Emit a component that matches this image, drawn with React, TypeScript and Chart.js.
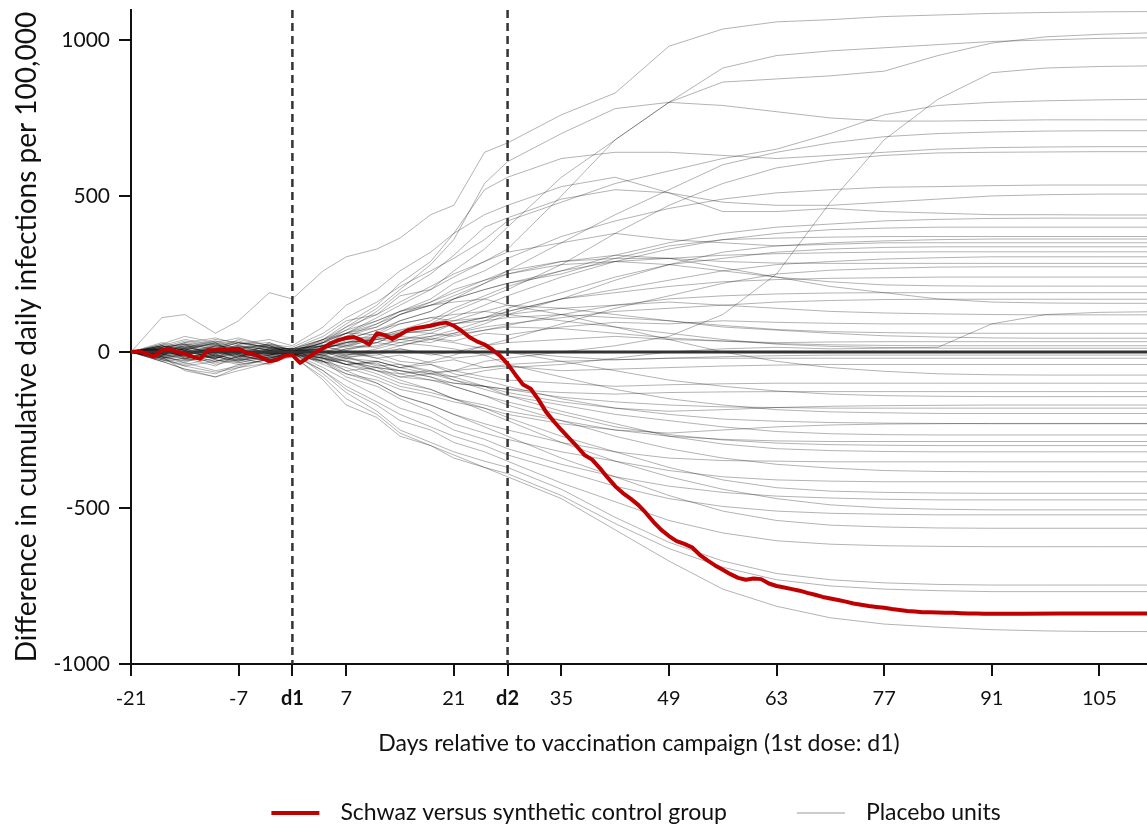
import React, { useEffect, useRef } from 'react';
import { Chart, registerables } from 'chart.js';

Chart.register(...registerables);

const DAYS = [-21, -17, -14, -10, -7, -3, 0, 4, 7, 11, 14, 18, 21, 25, 28, 35, 42, 49, 56, 63, 70, 77, 84, 91, 98, 105, 112];

// One row per placebo unit (values at DAYS)
const PLACEBO_VALUES: number[][] = [
  [0, 110, 120, 60, 100, 190, 170, 260, 305, 330, 365, 440, 470, 640, 670, 760, 830, 980, 1035, 1058, 1065, 1075, 1080, 1085, 1088, 1090, 1091],
  [0, 10, -15, 20, 5, -10, 10, 40, 80, 120, 160, 210, 250, 290, 330, 500, 680, 800, 865, 875, 885, 900, 950, 990, 1010, 1018, 1023],
  [0, -10, 15, 25, -5, 20, 5, 30, 60, 110, 150, 200, 260, 330, 400, 560, 680, 800, 910, 950, 965, 975, 985, 995, 1000, 1005, 1007],
  [0, 15, -20, -10, 20, 5, 0, -20, -40, -30, -50, -40, -60, -30, -20, 0, 20, 50, 120, 250, 480, 680, 810, 895, 910, 915, 917],
  [0, -5, 10, -20, 15, 25, 15, 60, 110, 160, 210, 260, 300, 360, 420, 480, 540, 580, 620, 650, 700, 760, 790, 800, 805, 808, 810],
  [0, 20, 5, 30, -10, 0, -5, 30, 80, 140, 200, 280, 360, 540, 610, 700, 780, 800, 790, 770, 750, 740, 740, 742, 744, 744, 744],
  [0, -20, -5, 10, 30, 15, 10, 20, 40, 70, 100, 130, 170, 220, 260, 350, 440, 520, 600, 640, 670, 690, 700, 705, 708, 709, 709],
  [0, 5, 25, -15, 10, -20, 0, 40, 90, 150, 220, 290, 380, 520, 560, 620, 640, 640, 630, 620, 630, 640, 650, 655, 657, 658, 658],
  [0, -15, -30, -10, -25, 10, 5, -10, 10, 30, 60, 90, 130, 170, 200, 280, 380, 470, 540, 590, 615, 630, 638, 640, 641, 642, 642],
  [0, 25, 10, 35, 20, -5, -10, 10, 50, 90, 130, 170, 220, 260, 300, 370, 420, 460, 490, 510, 520, 528, 530, 533, 535, 535, 535],
  [0, -10, 20, 5, -20, 30, 0, 30, 70, 130, 190, 250, 310, 400, 430, 490, 520, 510, 480, 470, 470, 480, 490, 500, 504, 506, 506],
  [0, 30, 15, -5, 25, 40, 20, 80, 150, 200, 260, 320, 380, 440, 470, 530, 560, 510, 450, 450, 460, 450, 445, 440, 440, 439, 439],
  [0, -25, -10, -30, -15, 5, -5, 0, 20, 50, 70, 100, 140, 180, 210, 260, 310, 350, 380, 400, 410, 420, 425, 428, 429, 429, 429],
  [0, 10, -5, 15, -20, -10, 5, 20, 60, 80, 120, 150, 170, 200, 220, 250, 300, 340, 360, 365, 368, 370, 370, 370, 370, 370, 370],
  [0, -30, -55, -70, -40, -25, -10, -30, -20, 0, 20, 40, 60, 90, 120, 170, 230, 280, 320, 340, 350, 356, 360, 362, 362, 362, 362],
  [0, 15, 35, 20, 5, 15, 10, 50, 100, 120, 180, 200, 240, 290, 320, 350, 380, 360, 350, 340, 345, 350, 350, 350, 350, 350, 350],
  [0, -5, -25, 10, -10, -30, 0, 10, 30, 40, 60, 70, 90, 110, 140, 190, 240, 280, 300, 320, 330, 335, 337, 337, 337, 337, 337],
  [0, 20, 40, 25, 35, 10, -5, 20, 30, 60, 100, 130, 170, 200, 220, 260, 290, 300, 310, 315, 318, 320, 321, 321, 321, 321, 321],
  [0, -10, 5, -25, -35, -15, 5, 0, -10, 10, 30, 50, 70, 100, 130, 170, 200, 230, 260, 280, 290, 298, 302, 305, 305, 305, 305],
  [0, 5, -15, -5, 10, 20, 0, 30, 60, 100, 130, 160, 200, 230, 250, 290, 300, 300, 290, 285, 284, 284, 284, 284, 284, 284, 284],
  [0, -20, -35, -60, -45, -20, -10, -20, -40, -30, -50, -30, -10, 20, 40, 90, 140, 180, 220, 250, 262, 268, 272, 273, 273, 273, 273],
  [0, 10, 30, 45, 25, 30, 5, 40, 60, 90, 120, 150, 180, 220, 250, 280, 290, 280, 260, 240, 225, 215, 212, 211, 211, 211, 211],
  [0, -15, 0, -20, 5, -5, 0, -10, 10, 20, 40, 50, 60, 80, 90, 110, 130, 140, 150, 160, 165, 168, 169, 169, 169, 169, 169],
  [0, 25, 50, 30, 45, 20, -5, 20, 50, 80, 120, 160, 190, 230, 260, 290, 310, 300, 270, 240, 210, 190, 170, 160, 157, 156, 156],
  [0, -5, 20, -15, -30, 5, 10, 0, -20, -40, -60, -70, -80, -60, -50, -40, -20, 0, 10, 15, 10, 12, 15, 90, 120, 127, 129],
  [0, 10, -20, 0, -15, -5, 0, 20, 40, 50, 70, 80, 100, 110, 120, 140, 150, 160, 150, 140, 130, 125, 122, 120, 119, 119, 119],
  [0, -10, 15, 35, 10, 25, 5, 10, 30, 50, 60, 70, 90, 100, 110, 120, 110, 100, 80, 70, 60, 52, 48, 45, 44, 44, 44],
  [0, 5, -15, -35, -20, -40, -5, -20, -10, 0, 10, -10, 0, 20, 30, 40, 50, 40, 35, 30, 32, 33, 33, 33, 33, 33, 33],
  [0, -20, -5, 20, 30, 15, 0, 30, 40, 70, 90, 110, 120, 130, 120, 100, 80, 60, 40, 25, 18, 14, 12, 12, 12, 12, 12],
  [0, 15, 25, -10, -25, -15, -10, -30, -60, -50, -80, -70, -60, -50, -40, -30, -25, -20, -20, -20, -20, -20, -20, -20, -20, -20, -20],
  [0, -25, -40, -20, -5, 10, 10, 40, 70, 100, 130, 150, 160, 170, 150, 120, 80, 40, 0, -30, -50, -62, -70, -73, -74, -74, -74],
  [0, 5, 20, 40, 30, 5, -5, -20, -40, -60, -80, -90, -100, -110, -120, -130, -135, -130, -128, -127, -127, -127, -127, -127, -127, -127, -127],
  [0, -15, -60, -80, -50, -20, 0, 20, 20, 40, 50, 40, 30, 10, 0, -30, -60, -90, -110, -125, -135, -140, -142, -143, -143, -143, -143],
  [0, 20, 10, -10, 15, -25, 5, -10, -30, -50, -60, -80, -100, -110, -130, -160, -180, -190, -185, -178, -174, -172, -171, -170, -170, -170, -170],
  [0, -5, 10, 30, -10, 0, -10, 10, 30, 40, 30, 20, 10, -10, -40, -80, -120, -150, -170, -185, -192, -195, -197, -197, -197, -197, -197],
  [0, 10, -25, -15, -30, -10, 0, -40, -70, -90, -120, -140, -160, -180, -200, -230, -250, -260, -250, -240, -234, -231, -230, -229, -229, -229, -229],
  [0, -30, -20, -45, -10, -30, 5, 0, -20, -30, -50, -70, -90, -120, -140, -170, -200, -220, -240, -255, -262, -265, -266, -266, -266, -266, -266],
  [0, 20, -10, 10, 40, 20, -5, -30, -50, -80, -110, -130, -150, -170, -190, -220, -250, -270, -280, -285, -287, -287, -287, -287, -287, -287, -287],
  [0, -10, -35, 5, -20, 10, 10, 20, 0, -20, -40, -60, -80, -110, -140, -190, -230, -270, -295, -310, -316, -319, -320, -320, -320, -320, -320],
  [0, 10, 30, 15, -5, -20, 0, -20, -60, -100, -140, -170, -200, -230, -250, -290, -320, -340, -348, -350, -352, -352, -352, -352, -352, -352, -352],
  [0, -20, -45, -30, -15, 5, -10, -10, -30, -50, -60, -80, -110, -140, -170, -220, -270, -310, -340, -360, -372, -380, -383, -384, -384, -384, -384],
  [0, 5, -10, 20, 15, -5, 0, -30, -80, -110, -150, -190, -230, -260, -280, -320, -350, -380, -400, -410, -414, -416, -416, -416, -416, -416, -416],
  [0, -15, -5, -40, -25, -10, 5, -10, -40, -70, -100, -120, -150, -180, -210, -270, -320, -370, -410, -435, -446, -450, -452, -453, -453, -453, -453],
  [0, 15, -20, 0, -10, -30, -5, -50, -90, -140, -180, -210, -250, -280, -310, -360, -400, -430, -450, -462, -468, -472, -474, -474, -474, -474, -474],
  [0, -5, 25, 10, 30, 15, 0, -20, -30, -60, -90, -120, -150, -190, -220, -290, -350, -400, -440, -470, -490, -500, -504, -506, -506, -506, -506],
  [0, -25, -45, -65, -50, -35, -10, -60, -110, -160, -200, -240, -270, -300, -330, -380, -430, -470, -495, -510, -517, -520, -522, -522, -522, -522, -522],
  [0, 10, -5, 25, 5, -10, 5, -30, -70, -100, -140, -170, -200, -240, -270, -340, -400, -460, -510, -540, -555, -561, -564, -565, -565, -565, -565],
  [0, -10, 10, -25, -40, -25, -5, -60, -120, -170, -220, -250, -290, -320, -350, -420, -480, -540, -580, -605, -616, -621, -623, -624, -624, -624, -624],
  [0, 20, 5, -20, 0, 15, 0, -70, -130, -190, -250, -290, -320, -350, -370, -440, -530, -610, -670, -710, -730, -740, -745, -747, -747, -747, -747],
  [0, -20, -10, -30, -5, -20, -10, -90, -170, -210, -270, -300, -340, -370, -390, -460, -550, -630, -690, -730, -750, -760, -765, -768, -768, -768, -768],
  [0, -30, -55, -80, -60, -35, -15, -80, -150, -200, -260, -300, -330, -370, -400, -470, -570, -670, -760, -815, -852, -872, -882, -890, -894, -896, -896],
  [0, 8, -12, 18, -8, 12, -3, 15, 5, 30, 20, 45, 35, 60, 55, 80, 95, 90, 100, 95, 92, 90, 90, 90, 90, 90, 90],
  [0, -12, 5, -18, 8, -6, 2, -15, 5, -20, -10, -35, -25, -50, -45, -60, -55, -50, -45, -42, -40, -40, -40, -40, -40, -40, -40],
  [0, 18, 6, 28, 12, 22, 8, 25, 15, 45, 65, 60, 90, 110, 130, 170, 190, 210, 225, 232, 236, 238, 240, 240, 240, 240, 240],
  [0, -6, -22, -8, -28, -14, -6, -25, -15, -45, -40, -65, -60, -80, -90, -100, -110, -105, -102, -100, -100, -100, -100, -100, -100, -100, -100],
  [0, 4, 16, -4, 22, 6, 4, -5, 20, 15, 40, 30, 55, 70, 85, 120, 150, 170, 180, 186, 189, 190, 190, 190, 190, 190, 190],
  [0, -14, 4, -22, 0, -12, 0, 10, -10, -5, -30, -40, -70, -90, -110, -150, -180, -200, -215, -222, -226, -228, -229, -230, -230, -230, -230],
  [0, 12, -6, 6, -14, 8, 3, 35, 60, 55, 90, 110, 100, 130, 150, 140, 120, 100, 85, 72, 65, 62, 60, 60, 60, 60, 60],
  [0, -8, 12, 2, 18, -2, -4, -35, -25, -60, -70, -60, -90, -110, -120, -145, -160, -170, -176, -178, -180, -180, -180, -180, -180, -180, -180],
  [0, 6, -8, 12, -4, 4, 2, 10, 35, 30, 60, 90, 110, 150, 180, 240, 290, 330, 360, 380, 392, 397, 400, 400, 400, 400, 400],
  [0, -4, 8, -12, 4, -8, -2, 5, -15, -10, 10, -5, -20, -10, 0, -15, -25, -20, -15, -12, -10, -10, -10, -10, -10, -10, -10],
  [0, 14, 26, 8, 2, -6, 0, -15, -40, -35, -70, -90, -110, -140, -160, -200, -240, -265, -282, -292, -297, -299, -300, -300, -300, -300, -300],
  [0, -16, -28, -14, -34, -18, -6, 15, 25, 45, 40, 60, 50, 70, 80, 75, 60, 45, 35, 27, 23, 21, 20, 20, 20, 20, 20],
];

// Treated unit: Schwaz versus synthetic control group
const RED_DAYS = [
  -21, -20, -19, -18, -17, -16, -15, -14, -13, -12, -11, -10, -9, -8, -7, -6, -5, -4, -3, -2, -1,
  0, 1, 2, 3, 4, 5, 6, 7, 8, 9, 10, 11, 12, 13, 14, 15, 16, 17, 18, 19, 20,
  21, 22, 23, 24, 25, 26, 27, 28, 29, 30, 31, 32, 33, 34, 35, 36, 37, 38, 39, 40,
  41, 42, 43, 44, 45, 46, 47, 48, 49, 50, 51, 52, 53, 54, 55, 56, 57, 58, 59, 60,
  61, 62, 63, 64, 65, 66, 67, 68, 69, 70, 71, 72, 73, 74, 75, 76, 77, 78, 79, 80,
  81, 82, 83, 84, 85, 86, 87, 88, 89, 90, 95, 100, 105, 112,
];
const RED_VALUES = [
  0, 2, -5, -15, 5, 10, 0, -5, -15, -22, 5, 6, 8, 9, 10, -2, -8, -18, -30, -25, -12,
  -10, -35, -18, -2, 12, 28, 38, 45, 48, 38, 24, 60, 54, 42, 55, 70, 76, 80, 84, 90, 94,
  84, 68, 48, 34, 24, 8, -12, -38, -72, -104, -118, -152, -192, -222, -250, -276, -302, -330, -345, -372,
  -402, -430, -452, -470, -490, -516, -545, -570, -590, -606, -615, -626, -650, -668, -684, -698, -712, -724, -730, -726,
  -728, -742, -750, -755, -760, -765, -772, -778, -785, -790, -795, -800, -806, -810, -814, -817, -820, -824, -827, -830,
  -832, -834, -834, -835, -836, -836, -837, -838, -838, -839, -839, -838, -838, -838,
];

const X_TICKS = [-21, -7, 0, 7, 21, 28, 35, 49, 63, 77, 91, 105];
const X_TICK_LABELS = ['-21', '-7', 'd1', '7', '21', 'd2', '35', '49', '63', '77', '91', '105'];
const BOLD_TICKS = [0, 28];
const Y_TICKS = [-1000, -500, 0, 500, 1000];
const DOSE_DAYS = [0, 28];
const LEGEND_LABELS = ['Schwaz versus synthetic control group', 'Placebo units'];

const RED = '#c00000';
const PLACEBO = 'rgba(0,0,0,0.3)';
const FONT = 'Lato';

const overlayPlugin = {
  id: 'overlay',
  beforeDatasetDraw(chart: any, args: any) {
    if (args.index !== 0) return;
    const { ctx, chartArea: a, scales } = chart;
    const x = scales.x;
    const y = scales.y;
    ctx.save();
    const y0 = y.getPixelForValue(0);
    ctx.strokeStyle = '#333333';
    ctx.lineWidth = 3;
    ctx.beginPath();
    ctx.moveTo(a.left, y0);
    ctx.lineTo(a.right, y0);
    ctx.stroke();
    ctx.setLineDash([8, 5]);
    ctx.lineWidth = 2.5;
    for (const d of DOSE_DAYS) {
      const px = x.getPixelForValue(d);
      ctx.beginPath();
      ctx.moveTo(px, a.top);
      ctx.lineTo(px, a.bottom);
      ctx.stroke();
    }
    ctx.restore();
  },
  afterDraw(chart: any) {
    const { ctx, chartArea: a } = chart;
    ctx.save();
    ctx.font = `23px ${FONT}`;
    const w1 = ctx.measureText(LEGEND_LABELS[0]).width;
    const w2 = ctx.measureText(LEGEND_LABELS[1]).width;
    const lineLen = 48;
    const gap = 21;
    const itemGap = 70;
    const total = lineLen + gap + w1 + itemGap + lineLen + gap + w2;
    let cx = (a.left + a.right) / 2 - total / 2 - 3;
    const cy = 813;
    ctx.textBaseline = 'middle';
    ctx.fillStyle = '#111111';
    ctx.strokeStyle = RED;
    ctx.lineWidth = 4;
    ctx.beginPath();
    ctx.moveTo(cx, cy);
    ctx.lineTo(cx + lineLen, cy);
    ctx.stroke();
    cx += lineLen + gap;
    ctx.fillText(LEGEND_LABELS[0], cx, cy);
    cx += w1 + itemGap;
    ctx.strokeStyle = '#cccccc';
    ctx.lineWidth = 2;
    ctx.beginPath();
    ctx.moveTo(cx, cy);
    ctx.lineTo(cx + lineLen, cy);
    ctx.stroke();
    cx += lineLen + gap;
    ctx.fillText(LEGEND_LABELS[1], cx, cy);
    ctx.restore();
  },
};

export default function App() {
  const ref = useRef<HTMLCanvasElement | null>(null);

  useEffect(() => {
    document.body.style.margin = '0';
    const canvas = ref.current;
    if (!canvas) return;
    Chart.defaults.font.family = FONT;

    const datasets: any[] = [
      {
        label: LEGEND_LABELS[0],
        data: RED_DAYS.map((d, i) => ({ x: d, y: RED_VALUES[i] })),
        borderColor: RED,
        borderWidth: 4,
        pointRadius: 0,
        tension: 0,
        borderJoinStyle: 'round',
        borderCapStyle: 'round',
      },
      ...PLACEBO_VALUES.map((row, k) => ({
        label: `${LEGEND_LABELS[1]} ${k + 1}`,
        data: DAYS.map((d, i) => ({ x: d, y: row[i] })),
        borderColor: PLACEBO,
        borderWidth: 1,
        pointRadius: 0,
        tension: 0,
      })),
    ];

    const chart = new Chart(canvas, {
      type: 'line',
      data: { datasets },
      plugins: [overlayPlugin],
      options: {
        animation: false,
        responsive: false,
        devicePixelRatio: 1,
        layout: { padding: { top: 10, right: 0, bottom: 71, left: 0 } },
        plugins: { legend: { display: false }, tooltip: { enabled: false } },
        scales: {
          x: {
            type: 'linear',
            min: -21,
            max: 111.2,
            afterBuildTicks: (s: any) => {
              s.ticks = X_TICKS.map((v) => ({ value: v }));
            },
            afterFit: (s: any) => {
              s.height = 93;
            },
            ticks: {
              autoSkip: false,
              maxRotation: 0,
              padding: 11,
              color: '#111111',
              font: (c: any) => ({
                size: 20,
                family: FONT,
                weight: c.tick && BOLD_TICKS.includes(c.tick.value) ? 'bold' : 'normal',
              }),
              callback: (v: any) => X_TICK_LABELS[X_TICKS.indexOf(Number(v))],
            },
            grid: { drawOnChartArea: false, drawTicks: true, tickLength: 12, color: '#111111', lineWidth: 2 },
            border: { display: true, color: '#111111', width: 2 },
            title: {
              display: true,
              text: 'Days relative to vaccination campaign (1st dose: d1)',
              color: '#111111',
              font: { size: 23, family: FONT },
              padding: { top: 0, bottom: 0 },
            },
          },
          y: {
            type: 'linear',
            min: -1000,
            max: 1096,
            afterBuildTicks: (s: any) => {
              s.ticks = Y_TICKS.map((v) => ({ value: v }));
            },
            afterFit: (s: any) => {
              s.width = 131;
              s.paddingTop = 0;
              s.paddingBottom = 0;
            },
            ticks: {
              padding: 9,
              color: '#111111',
              font: { size: 21, family: FONT },
              callback: (v: any) => String(v),
            },
            grid: { drawOnChartArea: false, drawTicks: true, tickLength: 12, color: '#111111', lineWidth: 2 },
            border: { display: true, color: '#111111', width: 2 },
            title: {
              display: true,
              text: 'Difference in cumulative daily infections per 100,000',
              color: '#111111',
              font: { size: 28, family: FONT },
              padding: { top: 10, bottom: 0 },
            },
          },
        },
      },
    });
    return () => chart.destroy();
  }, []);

  return (
    <div style={{ width: 1147, height: 828 }}>
      <canvas ref={ref} width={1147} height={828} style={{ display: 'block' }} />
    </div>
  );
}
